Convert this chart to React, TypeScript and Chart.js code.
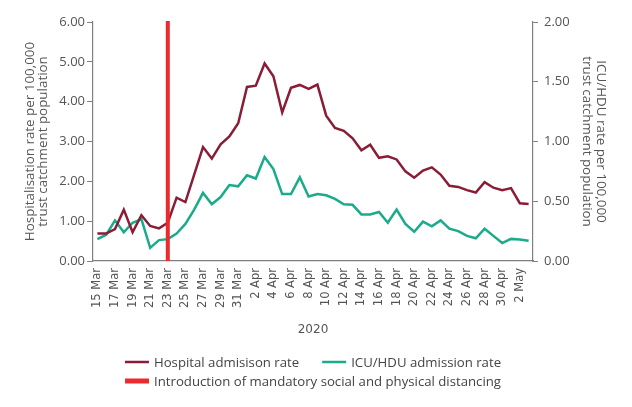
import React, { useEffect, useRef } from "react";
import { Chart, registerables } from "chart.js";

Chart.register(...registerables);

const dates: string[] = [
  "15 Mar", "16 Mar", "17 Mar", "18 Mar", "19 Mar", "20 Mar", "21 Mar", "22 Mar", "23 Mar", "24 Mar",
  "25 Mar", "26 Mar", "27 Mar", "28 Mar", "29 Mar", "30 Mar", "31 Mar", "1 Apr", "2 Apr", "3 Apr",
  "4 Apr", "5 Apr", "6 Apr", "7 Apr", "8 Apr", "9 Apr", "10 Apr", "11 Apr", "12 Apr", "13 Apr",
  "14 Apr", "15 Apr", "16 Apr", "17 Apr", "18 Apr", "19 Apr", "20 Apr", "21 Apr", "22 Apr", "23 Apr",
  "24 Apr", "25 Apr", "26 Apr", "27 Apr", "28 Apr", "29 Apr", "30 Apr", "1 May", "2 May", "3 May",
];

const hospitalRate: number[] = [
  0.69, 0.69, 0.8, 1.29, 0.72, 1.15, 0.88, 0.82, 0.96, 1.59,
  1.48, 2.17, 2.86, 2.57, 2.93, 3.13, 3.46, 4.37, 4.4, 4.96,
  4.64, 3.73, 4.35, 4.42, 4.32, 4.43, 3.65, 3.34, 3.27, 3.08,
  2.78, 2.92, 2.59, 2.63, 2.55, 2.25, 2.09, 2.27, 2.35, 2.17,
  1.89, 1.86, 1.78, 1.72, 1.98, 1.84, 1.78, 1.83, 1.45, 1.43,
];

const icuRate: number[] = [
  0.183, 0.22, 0.34, 0.24, 0.32, 0.35, 0.11, 0.175, 0.183, 0.23,
  0.31, 0.43, 0.57, 0.475, 0.535, 0.635, 0.625, 0.717, 0.69, 0.87,
  0.77, 0.56, 0.56, 0.7, 0.54, 0.56, 0.55, 0.52, 0.475, 0.47,
  0.39, 0.39, 0.41, 0.32, 0.43, 0.31, 0.245, 0.33, 0.29, 0.34,
  0.27, 0.25, 0.21, 0.19, 0.27, 0.21, 0.15, 0.185, 0.18, 0.17,
];

const interventionDate = "23 Mar";

const seriesLabels = {
  hospital: "Hospital admisison rate",
  icu: "ICU/HDU admission rate",
  intervention: "Introduction of mandatory social and physical distancing",
};

const leftTitle = ["Hospitalisation rate per 100,000", "trust catchment population"];
const rightTitle = ["ICU/HDU rate per 100,000", "trust catchment population"];
const xTitle = "2020";

const COLORS = {
  hospital: "#8a1d35",
  icu: "#1aab8a",
  intervention: "#ec2a2d",
  axis: "#808080",
  text: "#555555",
  legendText: "#444444",
};

const TEXT_FONT = "'Open Sans', 'Noto Sans', sans-serif";

const verticalLinePlugin = {
  id: "interventionLine",
  afterDatasetsDraw(chart: any, _args: any, opts: any) {
    const xScale = chart.scales.x;
    const idx = chart.data.labels.indexOf(opts.value);
    if (idx < 0) return;
    const x = xScale.getPixelForValue(idx);
    const { top, bottom } = chart.chartArea;
    const ctx = chart.ctx;
    ctx.save();
    ctx.strokeStyle = opts.color;
    ctx.lineWidth = opts.width;
    ctx.beginPath();
    ctx.moveTo(x, top - 1);
    ctx.lineTo(x, bottom);
    ctx.stroke();
    ctx.restore();
  },
};

const customLegendPlugin = {
  id: "customLegend",
  afterDraw(chart: any, _args: any, opts: any) {
    const ctx = chart.ctx;
    const { rows, rowY, font, color, lineLength, gap, itemGap } = opts;
    const cx = (chart.chartArea.left + chart.chartArea.right) / 2;
    ctx.save();
    ctx.font = font;
    ctx.textBaseline = "middle";
    rows.forEach((row: any[], r: number) => {
      const widths = row.map((it) => lineLength + gap + ctx.measureText(it.text).width);
      const total = widths.reduce((a: number, b: number) => a + b, 0) + itemGap * (row.length - 1);
      let x = cx - total / 2;
      const y = rowY[r];
      row.forEach((it, i) => {
        ctx.strokeStyle = it.color;
        ctx.lineWidth = it.lineWidth;
        ctx.beginPath();
        ctx.moveTo(x, y);
        ctx.lineTo(x + lineLength, y);
        ctx.stroke();
        ctx.fillStyle = color;
        ctx.textAlign = "left";
        ctx.fillText(it.text, x + lineLength + gap, y + 1);
        x += widths[i] + itemGap;
      });
    });
    ctx.restore();
  },
};

export default function App() {
  const canvasRef = useRef<HTMLCanvasElement | null>(null);

  useEffect(() => {
    document.body.style.margin = "0";
    const canvas = canvasRef.current;
    if (!canvas) return;

    const chart = new Chart(canvas, {
      type: "line",
      data: {
        labels: dates,
        datasets: [
          {
            label: seriesLabels.hospital,
            data: hospitalRate,
            borderColor: COLORS.hospital,
            backgroundColor: COLORS.hospital,
            borderWidth: 2.5,
            pointRadius: 0,
            tension: 0,
            yAxisID: "y",
          },
          {
            label: seriesLabels.icu,
            data: icuRate,
            borderColor: COLORS.icu,
            backgroundColor: COLORS.icu,
            borderWidth: 2.5,
            pointRadius: 0,
            tension: 0,
            yAxisID: "y1",
          },
        ],
      },
      options: {
        responsive: false,
        animation: false,
        maintainAspectRatio: false,
        layout: { padding: { top: 22, left: 0, right: 0, bottom: 70 } },
        plugins: {
          legend: { display: false },
          tooltip: { enabled: false },
          interventionLine: { value: interventionDate, color: COLORS.intervention, width: 4 },
          customLegend: {
            rows: [
              [
                { text: seriesLabels.hospital, color: COLORS.hospital, lineWidth: 2.5 },
                { text: seriesLabels.icu, color: COLORS.icu, lineWidth: 2.5 },
              ],
              [{ text: seriesLabels.intervention, color: COLORS.intervention, lineWidth: 5 }],
            ],
            rowY: [362, 381],
            font: `13.2px ${TEXT_FONT}`,
            color: COLORS.legendText,
            lineLength: 24,
            gap: 5,
            itemGap: 23,
          },
        } as any,
        scales: {
          x: {
            type: "category",
            offset: true,
            grid: { display: false, drawTicks: false },
            border: { display: true, color: COLORS.axis, width: 1.2 },
            ticks: {
              autoSkip: false,
              maxRotation: 90,
              minRotation: 90,
              padding: 7,
              color: COLORS.text,
              font: { family: "'DejaVu Sans', sans-serif", size: 11.5 },
              callback: (_v: any, i: number) => (i % 2 === 0 ? dates[i] : ""),
            },
            title: {
              display: true,
              text: xTitle,
              color: COLORS.text,
              font: { family: "'DejaVu Sans', sans-serif", size: 12 },
              padding: { top: 0, bottom: 0 },
            },
            afterFit: (s: any) => {
              s.height = 76;
            },
          },
          y: {
            position: "left",
            min: 0,
            max: 6,
            grid: { display: true, drawOnChartArea: false, drawTicks: true, tickLength: 6, color: COLORS.axis },
            border: { display: true, color: COLORS.axis, width: 1.2 },
            ticks: {
              stepSize: 1,
              padding: 2,
              color: COLORS.text,
              font: { family: TEXT_FONT, size: 13 },
              callback: (v: any) => Number(v).toFixed(2),
            },
            title: {
              display: true,
              text: leftTitle,
              color: COLORS.text,
              font: { family: TEXT_FONT, size: 13.4, lineHeight: 0.95 },
              padding: { top: 24, bottom: 0 },
            },
            afterFit: (s: any) => {
              s.width = 93;
            },
          },
          y1: {
            position: "right",
            min: 0,
            max: 2,
            grid: { display: true, drawOnChartArea: false, drawTicks: true, tickLength: 5, color: COLORS.axis },
            border: { display: true, color: COLORS.axis, width: 1.2 },
            ticks: {
              stepSize: 0.5,
              padding: 6,
              color: COLORS.text,
              font: { family: TEXT_FONT, size: 13 },
              callback: (v: any) => Number(v).toFixed(2),
            },
            title: {
              display: true,
              text: rightTitle,
              color: COLORS.text,
              font: { family: TEXT_FONT, size: 13.4, lineHeight: 1.05 },
              padding: { top: 24, bottom: 0 },
            },
            afterFit: (s: any) => {
              s.width = 99;
            },
          },
        },
      } as any,
      plugins: [verticalLinePlugin, customLegendPlugin],
    });

    return () => {
      chart.destroy();
    };
  }, []);

  return (
    <div style={{ width: 632, height: 407, background: "#ffffff" }}>
      <canvas ref={canvasRef} width={632} height={407} style={{ display: "block" }} />
    </div>
  );
}
